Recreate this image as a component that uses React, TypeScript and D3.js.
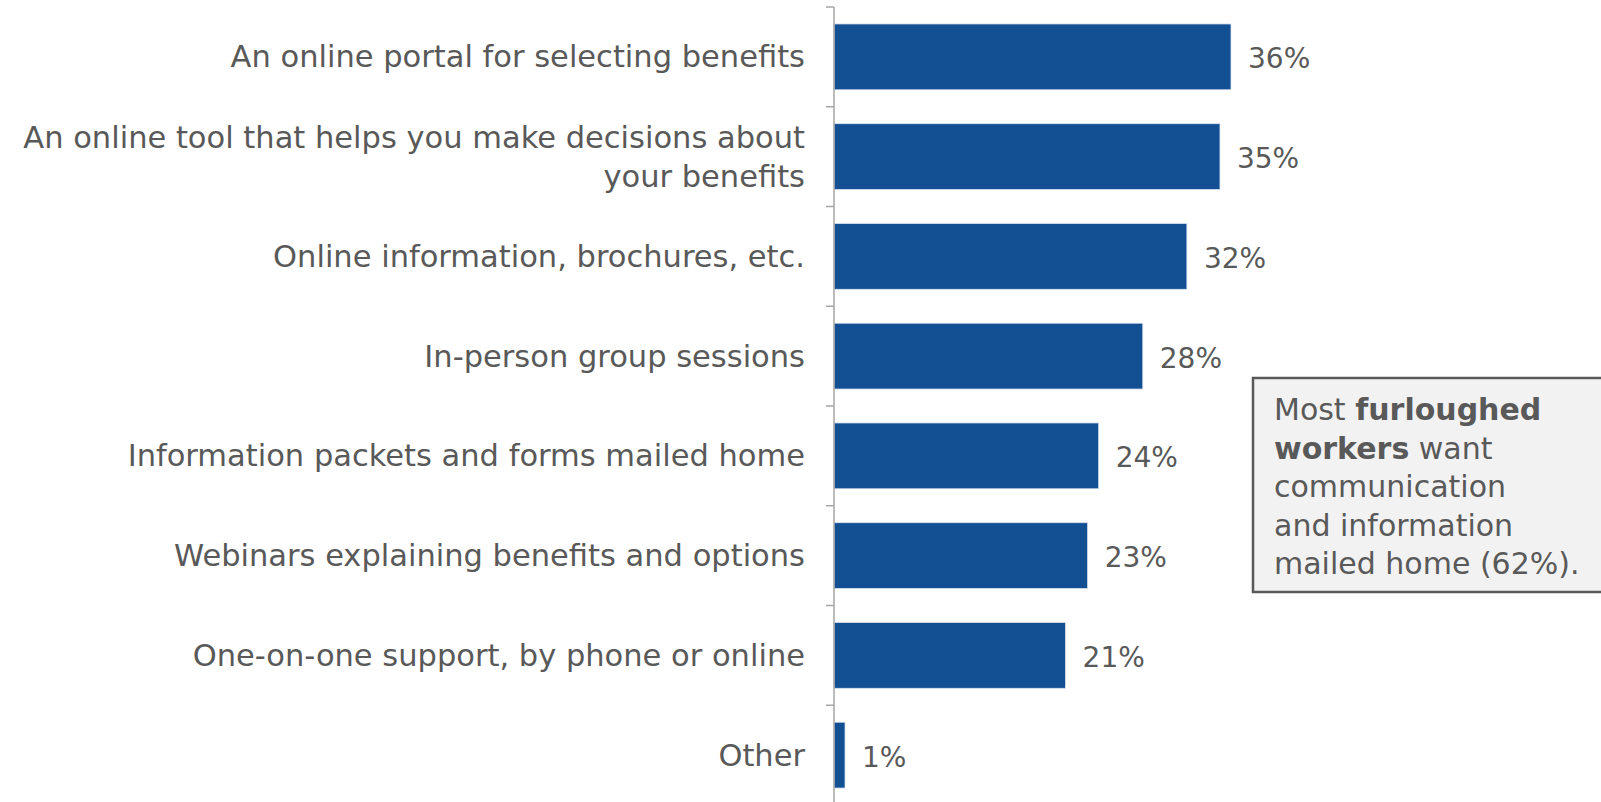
import React from "react";
import * as d3 from "d3";

const categories: string[][] = [
  ["An online portal for selecting benefits"],
  ["An online tool that helps you make decisions about", "your benefits"],
  ["Online information, brochures, etc."],
  ["In-person group sessions"],
  ["Information packets and forms mailed home"],
  ["Webinars explaining benefits and options"],
  ["One-on-one support, by phone or online"],
  ["Other"],
];
const values: number[] = [36, 35, 32, 28, 24, 23, 21, 1];
const valueLabels: string[] = ["36%", "35%", "32%", "28%", "24%", "23%", "21%", "1%"];
const noteLines: { text: string; bold: boolean }[][] = [
  [{ text: "Most ", bold: false }, { text: "furloughed", bold: true }],
  [{ text: "workers", bold: true }, { text: " want", bold: false }],
  [{ text: "communication", bold: false }],
  [{ text: "and information", bold: false }],
  [{ text: "mailed home (62%).", bold: false }],
];

const W = 1601;
const H = 802;
const FONT = "'DejaVu Sans', sans-serif";
const TEXT = "#595959";
const BAR = "#124f93";

export default function App() {
  const keys = categories.map((c) => c.join(" "));
  const x0 = 834;
  const x = d3.scaleLinear().domain([0, 36]).range([x0, x0 + 397]);
  const y = d3
    .scaleBand<string>()
    .domain(keys)
    .range([7, 805])
    .paddingInner(0.34)
    .paddingOuter(0.17);
  const step = y.step();
  const boundaries = keys.map((k) => (y(k) as number) - (step * 0.34) / 2);
  boundaries.push(boundaries[boundaries.length - 1] + step);

  return (
    <svg
      width={W}
      height={H}
      style={{ position: "absolute", left: 0, top: 0, display: "block" }}
      fontFamily={FONT}
    >
      <rect width={W} height={H} fill="#fff" />
      {keys.map((k, i) => {
        const yc = (y(k) as number) + y.bandwidth() / 2;
        const lines = categories[i];
        const lh = 39;
        return (
          <g key={k}>
            <rect
              x={x(0)}
              y={y(k)}
              width={x(values[i]) - x(0)}
              height={y.bandwidth()}
              fill={BAR}
              stroke="#dbe4f0"
              strokeWidth={0.8}
            />
            <text
              x={x(values[i]) + 17}
              y={yc + 2}
              dominantBaseline="central"
              fontSize={28}
              fill={TEXT}
            >
              {valueLabels[i]}
            </text>
            {lines.map((ln, j) => (
              <text
                key={j}
                x={805}
                y={yc + (j - (lines.length - 1) / 2) * lh}
                textAnchor="end"
                dominantBaseline="central"
                fontSize={30.5}
                fill={TEXT}
              >
                {ln}
              </text>
            ))}
          </g>
        );
      })}
      <line x1={x0} x2={x0} y1={boundaries[0]} y2={H} stroke="#a6a6a6" strokeWidth={1.5} />
      {boundaries.map((b, i) => (
        <line key={i} x1={x0 - 8} x2={x0} y1={b} y2={b} stroke="#a6a6a6" strokeWidth={1.5} />
      ))}
      <rect x={1253} y={378} width={400} height={214} fill="#f2f2f2" stroke={TEXT} strokeWidth={2.5} />
      {noteLines.map((ln, i) => (
        <text
          key={i}
          x={1274}
          y={409 + i * 38.5}
          dominantBaseline="central"
          fontSize={30}
          fill={TEXT}
        >
          {ln.map((s, j) => (
            <tspan key={j} fontWeight={s.bold ? "bold" : "normal"}>
              {s.text}
            </tspan>
          ))}
        </text>
      ))}
    </svg>
  );
}
